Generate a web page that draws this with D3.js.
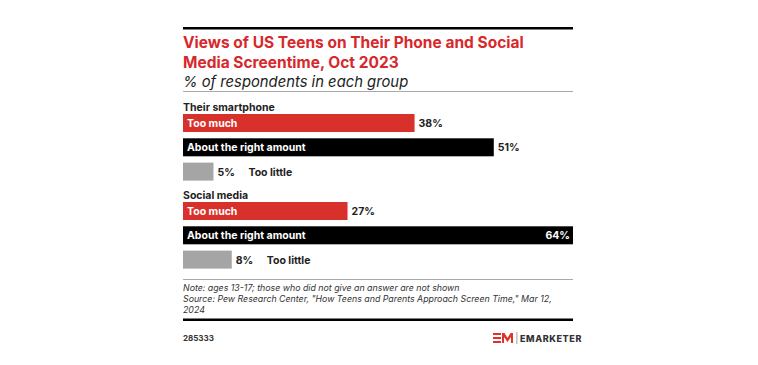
<!DOCTYPE html>
<html><head><meta charset="utf-8">
<script src="https://cdn.jsdelivr.net/npm/d3@7"></script>
<style>
html,body{margin:0;padding:0;background:#fff;}
svg{display:block;font-family:Inter,"Noto Sans",sans-serif;}
</style></head>
<body>
<svg id="c" width="758" height="365"></svg>
<script>
const groups = ["Their smartphone", "Social media"];
const categories = ["Too much", "About the right amount", "Too little"];
const smartphoneValues = [38, 51, 5];
const socialMediaValues = [27, 64, 8];
const seriesValues = [smartphoneValues, socialMediaValues];
const colors = ["#d8302b", "#000000", "#a5a5a5"];

const svg = d3.select("#c");
const L = 183, R = 573;
const x = d3.scaleLinear().domain([0, 64]).range([L, R]);

// top rule
svg.append("rect").attr("x", L).attr("y", 27).attr("width", R - L).attr("height", 2.5).attr("fill", "#000");
// title
const title = svg.append("text").attr("fill", "#d7282c").attr("font-weight", 700).attr("font-size", 15.5);
title.append("tspan").attr("x", L).attr("y", 47.5).text("Views of US Teens on Their Phone and Social");
title.append("tspan").attr("x", L).attr("y", 67.5).text("Media Screentime, Oct 2023");
svg.append("text").attr("x", L).attr("y", 87).attr("font-style", "italic").attr("font-size", 14.8)
  .attr("fill", "#222").text("% of respondents in each group");
svg.append("rect").attr("x", L).attr("y", 91).attr("width", R - L).attr("height", 1).attr("fill", "#aaa");

const groupTop = [100, 188];
const barH = 18, step = 24.3;
const idx = d3.scaleLinear().domain([0, 1]).range([0, step]);
groups.forEach((g, gi) => {
  const top = groupTop[gi];
  svg.append("text").attr("x", L).attr("y", top + 10.5).attr("font-weight", 700).attr("font-size", 10.5)
    .attr("fill", "#222").text(g);
  const y0 = top + 14;
  const rows = categories.map((c, i) => ({c, v: seriesValues[gi][i], i}));
  const gg = svg.append("g");
  gg.selectAll("rect").data(rows).join("rect")
    .attr("x", L).attr("y", d => y0 + idx(d.i)).attr("height", barH)
    .attr("width", d => x(d.v) - L).attr("fill", d => colors[d.i]);
  rows.forEach(d => {
    const cy = y0 + idx(d.i) + barH / 2 + 4;
    const lab = d.v + "%";
    if (d.i < 2) {
      gg.append("text").attr("x", L + 4).attr("y", cy).attr("fill", "#fff").attr("font-weight", 700)
        .attr("font-size", 10.5).text(d.c);
      if (x(d.v) > R - 30) {
        gg.append("text").attr("x", x(d.v) - 3).attr("y", cy).attr("text-anchor", "end").attr("fill", "#fff")
          .attr("font-weight", 700).attr("font-size", 10.5).text(lab);
      } else {
        gg.append("text").attr("x", x(d.v) + 4).attr("y", cy).attr("fill", "#222")
          .attr("font-weight", 700).attr("font-size", 10.5).text(lab);
      }
    } else {
      gg.append("text").attr("x", x(d.v) + 4).attr("y", cy).attr("fill", "#222")
        .attr("font-weight", 700).attr("font-size", 10.5).text(lab);
      gg.append("text").attr("x", x(d.v) + 35).attr("y", cy).attr("fill", "#222")
        .attr("font-weight", 700).attr("font-size", 10.5).text(d.c);
    }
  });
});

svg.append("rect").attr("x", L).attr("y", 279).attr("width", R - L).attr("height", 1).attr("fill", "#aaa");
const note = svg.append("text").attr("font-style", "italic").attr("font-size", 8.8).attr("fill", "#333");
note.append("tspan").attr("x", L).attr("y", 291).text("Note: ages 13-17; those who did not give an answer are not shown");
note.append("tspan").attr("x", L).attr("y", 302).text("Source: Pew Research Center, \"How Teens and Parents Approach Screen Time,\" Mar 12,");
note.append("tspan").attr("x", L).attr("y", 313).text("2024");
svg.append("rect").attr("x", L).attr("y", 318.5).attr("width", R - L).attr("height", 2.5).attr("fill", "#000");
svg.append("text").attr("x", L).attr("y", 341).attr("font-size", 8).attr("font-weight", 700).attr("fill", "#333").text("285333");

// logo
const lg = svg.append("g").attr("fill", "#e0312b");
lg.append("rect").attr("x", 493).attr("y", 333).attr("width", 8).attr("height", 2);
lg.append("rect").attr("x", 493).attr("y", 337).attr("width", 8).attr("height", 2);
lg.append("rect").attr("x", 493).attr("y", 341).attr("width", 8).attr("height", 2);
lg.append("path").attr("d", "M502,343 L502,333 L504.5,333 L507.5,338 L510.5,333 L513,333 L513,343 L511,343 L511,337 L507.5,342 L504,337 L504,343 Z");
svg.append("rect").attr("x", 516.5).attr("y", 332).attr("width", 0.8).attr("height", 12).attr("fill", "#888");
svg.append("text").attr("x", 520).attr("y", 341.5).attr("font-size", 9).attr("font-weight", 800)
  .attr("letter-spacing", 0.6).attr("fill", "#333").text("EMARKETER");
</script>
</body></html>
